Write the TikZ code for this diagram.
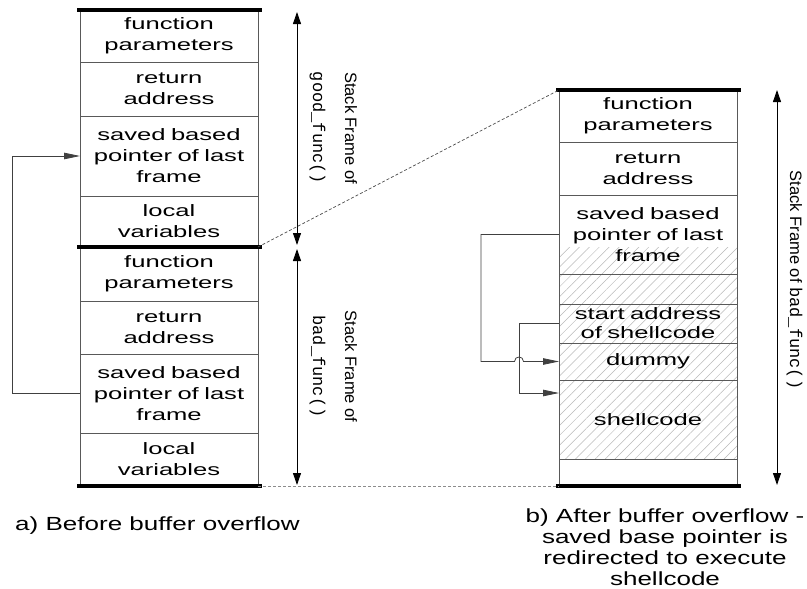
\documentclass[tikz,border=0pt]{standalone}
\usepackage{fontspec}
\setmainfont{Liberation Sans}
\setmonofont{Liberation Mono}
\newfontfamily\cellfont[FakeStretch=1.55]{Liberation Sans}
\newfontfamily\capfont[FakeStretch=1.37]{Liberation Sans}
\usetikzlibrary{arrows.meta,patterns.meta}
\tikzset{
  cell/.style={draw=black!65, line width=0.9pt, minimum width=178pt, text width=178pt,
    align=center, inner sep=0pt, outer sep=0pt,
    font=\cellfont\fontsize{16.5}{21}\selectfont},
  bar/.style={line width=4.5pt, line cap=butt},
  dbl/.style={line width=0.9pt, {Triangle[length=12pt,width=8pt]}-{Triangle[length=12pt,width=8pt]}},
  conn/.style={draw=black!75, line width=0.8pt},
  tip/.style={-{Triangle[length=16pt,width=6.5pt]}},
  dashline/.style={draw=black!70, line width=0.7pt, dash pattern=on 3pt off 2pt},
  rlabel/.style={rotate=-90, anchor=base, inner sep=0pt, font=\fontsize{16.5}{20}\selectfont},
  tlabel/.style={rotate=-90, anchor=base, inner sep=0pt, font=\ttfamily\fontsize{17}{20}\selectfont},
  caption/.style={inner sep=0pt, font=\capfont\fontsize{19}{21}\selectfont}
}
\begin{document}
\begin{tikzpicture}[x=1pt,y=-1pt]
\useasboundingbox (0,0) rectangle (807,589);

% ---------- left stack: good_func ----------
\node[cell, minimum height=52pt] (tfp) at (169,36) {function\\parameters};
\node[cell, minimum height=54pt] (tra) at (169,89) {return\\address};
\node[cell, minimum height=80pt] (tsbp) at (169,156) {saved based\\pointer of last\\frame};
\node[cell, minimum height=51pt] (tlv) at (169,221.5) {local\\variables};
% ---------- left stack: bad_func ----------
\node[cell, minimum height=54pt] (bfp) at (169,274) {function\\parameters};
\node[cell, minimum height=53pt] (bra) at (169,327.5) {return\\address};
\node[cell, minimum height=79pt] (bsbp) at (169,393.5) {saved based\\pointer of last\\frame};
\node[cell, minimum height=53pt] (blv) at (169,459.5) {local\\variables};

\draw[bar] (77,10) -- (262,10);
\draw[bar] (77,247) -- (262,247);
\draw[bar] (77,486) -- (262,486);

% frame arrows and labels (left)
\coordinate (a1t) at (297,12);
\coordinate (a1b) at (297,245);
\coordinate (a2t) at (297,249);
\coordinate (a2b) at (297,485);
\draw[dbl] (a1t) -- (a1b);
\draw[dbl] (a2t) -- (a2b);
\node[rlabel] (gl1) at (345,128) {Stack Frame of};
\node[tlabel] (gl2) at (313,128) {good\_func()};
\node[rlabel] (bl1) at (345,366.5) {Stack Frame of};
\node[tlabel] (bl2) at (313,366.5) {bad\_func()};

% pointer in left picture
\coordinate (lcx) at (12,0);
\draw[conn,tip] (bsbp.west) -- (bsbp.west -| lcx) |- (tsbp.west);

% ---------- right stack ----------
\fill[pattern={Lines[angle=45,distance=7pt,line width=0.5pt]}, pattern color=black!28]
  (559,247) rectangle (737,459);
\node[cell, minimum height=52pt] (rfp) at (648,116) {function\\parameters};
\node[cell, minimum height=53pt] (rra) at (648,168.5) {return\\address};
\node[cell, minimum height=79pt] (rsbp) at (648,234.5) {saved based\\pointer of last\\frame};
\node[cell, minimum height=30pt] (re1) at (648,289) {};
\node[cell, minimum height=39pt, font=\cellfont\fontsize{16.5}{19}\selectfont] (rsa) at (648,323.5) {start address\\of shellcode};
\node[cell, minimum height=37pt] (rd) at (648,361.5) {dummy};
\node[cell, minimum height=79pt] (rsc) at (648,419.5) {shellcode};
\node[cell, minimum height=27pt] (re2) at (648,472.5) {};

\draw[bar] (556,90) -- (741,90);
\draw[bar] (556,486) -- (741,486);

\coordinate (a3t) at (777,90);
\coordinate (a3b) at (777,485);
\draw[dbl] (a3t) -- (a3b);
\node[rlabel] (rl) at (790,280) {Stack Frame of \ttfamily\fontsize{17}{20}\selectfont bad\_func()};

% pointers in right picture
\coordinate (scin) at (559,393);
\draw[conn,tip] (rsbp.west) -- (481,234.5) -- (481,361.5) -- (514.5,361.5)
  .. controls (514.5,355.5) and (523.5,355.5) .. (523.5,361.5) -- (rd.west);
\draw[conn,tip] (rsa.west) -- (519,323.5) -- (519,393) -- (scin);

% dashed guide lines
\draw[dashline] (tlv.south east) -- (rfp.north west);
\draw[dashline, draw=black!45] (blv.south east) -- (re2.south west);

% captions
\node[caption, anchor=base west] (capa) at (15,530) {a) Before buffer overflow};
\node[caption, anchor=base, align=center] (capb) at (665,585)
  {b) After buffer overflow -\\saved base pointer is\\redirected to execute\\shellcode};
\end{tikzpicture}
\end{document}
